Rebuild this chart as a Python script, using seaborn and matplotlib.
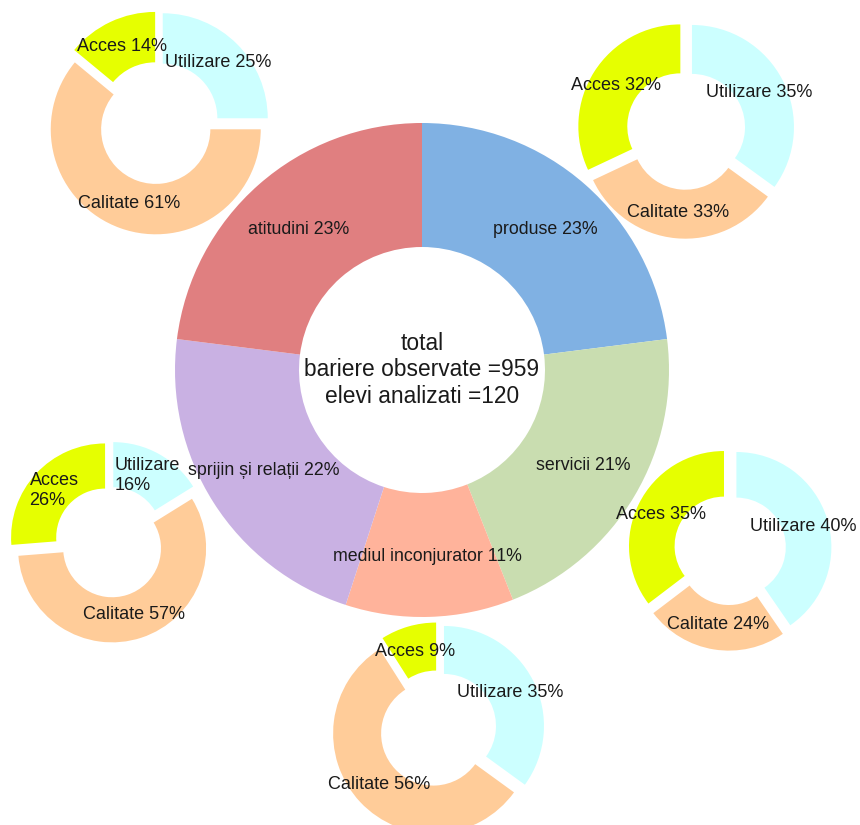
import matplotlib
matplotlib.use("Agg")
import matplotlib.pyplot as plt
import seaborn as sns

sns.set_style("white")
plt.rcParams['font.family'] = ['Liberation Sans', 'DejaVu Sans']

# central ring (clockwise from 12 o'clock)
main_names = ["produse", "servicii", "mediul inconjurator", "sprijin și relații", "atitudini"]
main_values = [23, 21, 11, 22, 23]
main_colors = ["#80b1e3", "#c9ddb0", "#ffb39b", "#c9b1e3", "#e07f80"]

# small rings, same order everywhere: Utilizare, Calitate, Acces
sub_names = ["Utilizare", "Calitate", "Acces"]
sub_colors = ["#ccffff", "#ffcc99", "#e6ff00"]
atitudini_vals = [25, 61, 14]
produse_vals = [35, 33, 32]
servicii_vals = [40, 24, 35]
mediul_vals = [35, 56, 9]
sprijin_vals = [16, 57, 26]

center_text = "total\nbariere observate =959\nelevi analizati =120"

W, H = 860, 825
txt_color = "#1a1a1a"

fig = plt.figure(figsize=(8.6, 8.25), dpi=100)
ax = fig.add_axes([0, 0, 1, 1])

# big donut
main_labels = [f"{n} {v}%" for n, v in zip(main_names, main_values)]
wedges, texts = ax.pie(main_values, labels=main_labels, colors=main_colors,
                       startangle=90, counterclock=False, radius=247,
                       center=(422, H - 370), labeldistance=0.757,
                       wedgeprops=dict(width=124, linewidth=0),
                       textprops=dict(fontsize=12.8, color=txt_color))
for t in texts:
    t.set_ha('center')
    t.set_va('center')

ax.text(422, H - 370, center_text, ha='center', va='center',
        fontsize=16.4, linespacing=1.17, color=txt_color)

# small donuts: (values, centre x, centre y from top, radius, wrap labels)
small = [
    (atitudini_vals, 158, 123, 105, False),
    (produse_vals, 686, 130, 102, False),
    (servicii_vals, 730, 549, 95, False),
    (mediul_vals, 438, 729, 100, False),
    (sprijin_vals, 110, 542, 94, True),
]
gap = 6.7  # explode offset, in pixels (pie takes it in data units)

for vals, cx, cy, r, wrap in small:
    labels = []
    for n, v in zip(sub_names, vals):
        sep = "\n" if (wrap and n != "Calitate") else " "
        labels.append(f"{n}{sep}{v}%")
    w, tx = ax.pie(vals, labels=labels, colors=sub_colors, startangle=90,
                   counterclock=False, radius=r, center=(cx, H - cy),
                   explode=[gap] * 3, labeldistance=0.81 - gap / r,
                   wedgeprops=dict(width=r * 0.48, linewidth=0),
                   textprops=dict(fontsize=13, color=txt_color))
    for t in tx:
        t.set_ha('center')
        t.set_va('center')
        t.set_multialignment('left')

ax.set_xlim(0, W)
ax.set_ylim(0, H)
ax.set_aspect('equal')
ax.axis('off')

fig.savefig("out.png", dpi=100)
